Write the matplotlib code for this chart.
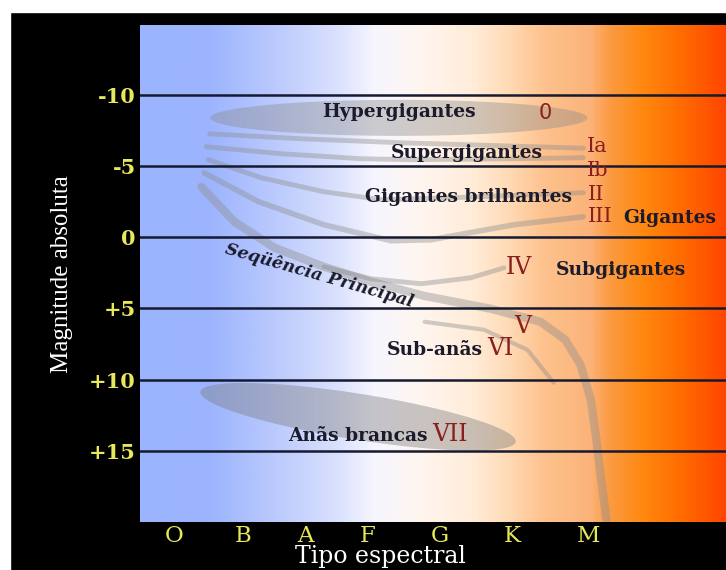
import numpy as np
import matplotlib
matplotlib.use("Agg")
import matplotlib.pyplot as plt
from matplotlib.colors import LinearSegmentedColormap
from matplotlib.patches import Rectangle, Polygon

# ---------------- data ----------------
spectral_types = ["O", "B", "A", "F", "G", "K", "M"]
spectral_pos = [0.0, 1.0, 1.9, 2.8, 3.85, 4.9, 6.0]
mag_ticks = [-10, -5, 0, 5, 10, 15]
mag_labels = ["-10", "-5", "0", "+5", "+10", "+15"]

# luminosity-class tracks: (spectral position, absolute magnitude)
ia_x = [0.51, 1.84, 3.29, 4.73, 5.93]
ia_m = [-7.26, -6.91, -6.63, -6.42, -6.25]
ib_x = [0.46, 1.55, 2.71, 3.43, 4.73, 5.93]
ib_m = [-6.35, -5.86, -5.51, -5.44, -5.50, -5.58]
ii_x = [0.49, 1.26, 2.17, 3.00, 4.01, 5.93]
ii_m = [-5.44, -4.17, -3.19, -2.63, -2.77, -3.12]
iii_x = [0.43, 1.22, 2.17, 3.14, 3.72, 4.92, 5.93]
iii_m = [-4.52, -2.49, -0.87, 0.25, 0.18, -0.87, -1.43]
ms_x = [0.39, 0.87, 1.45, 2.17, 2.85, 3.62, 4.59, 5.31, 5.67, 5.89, 6.04, 6.12, 6.19, 6.27]
ms_m = [-3.54, -1.08, 0.74, 2.08, 3.13, 4.12, 5.03, 5.94, 7.21, 8.96, 11.42, 14.23, 17.04, 20.0]
iv_x = [2.17, 2.85, 3.58, 4.30, 4.78]
iv_m = [2.08, 2.92, 3.27, 2.85, 2.15]
vi_x = [3.63, 4.49, 5.12, 5.50]
vi_m = [5.94, 6.50, 7.91, 10.22]

# ---------------- figure ----------------
W, H = 726, 570
fig = plt.figure(figsize=(W / 100, H / 100), dpi=100, facecolor="black")
fig.patches.append(Rectangle((0, 1 - 12 / H), 1, 12 / H, transform=fig.transFigure,
                             color="white", zorder=0))
fig.patches.append(Rectangle((0, 0), 10 / W, 1, transform=fig.transFigure,
                             color="white", zorder=0))

ax = fig.add_axes([140 / W, 48 / H, 586 / W, 497 / H])
XMIN, XMAX, YBOT, YTOP = -0.5, 8.0, 20.0, -14.9

# px -> data helpers (for annotation placement)
def dx(px):
    return (px - 173) / 69.1

def dy(py):
    return -10 + (py - 95) / 14.24

stops = [(0.0, "#9bb4fe"), (0.12, "#9db5fe"), (0.20, "#b3c4fe"), (0.34, "#dbe2fd"),
         (0.40, "#f6f6ff"), (0.48, "#fff5ef"), (0.57, "#ffecd8"), (0.63, "#ffdab5"),
         (0.69, "#fec28e"), (0.77, "#fbb379"), (0.805, "#fb9a40"), (0.86, "#ff8810"),
         (0.93, "#ff6a00"), (1.0, "#ff4600")]
cmap = LinearSegmentedColormap.from_list("hr", stops)
ax.imshow(np.linspace(0, 1, 600)[None, :], cmap=cmap, aspect="auto",
          extent=[XMIN, XMAX, YBOT, YTOP], zorder=0, interpolation="bilinear")
ax.set_xlim(XMIN, XMAX)
ax.set_ylim(YBOT, YTOP)

for m in mag_ticks:
    ax.axhline(m, color="#151a30", lw=1.8, zorder=3)

# hypergiant ellipse
t = np.linspace(0, 2 * np.pi, 200)
hx = 3.256 + (189 / 69.1) * np.cos(t)
hm = -8.38 + (18 / 14.24) * np.sin(t)
ax.add_patch(Polygon(np.c_[hx, hm], closed=True, facecolor="#8a8a8a", alpha=0.40,
                     edgecolor="none", zorder=1))
# white dwarf ellipse (tilted)
th = np.deg2rad(9)
a, b = 160, 23
ox = a * np.cos(t) * np.cos(th) - b * np.sin(t) * np.sin(th)
oy = a * np.cos(t) * np.sin(th) + b * np.sin(t) * np.cos(th)
ax.add_patch(Polygon(np.c_[2.663 + ox / 69.1, 12.61 + oy / 14.24], closed=True,
                     facecolor="#7a7a7a", alpha=0.40, edgecolor="none", zorder=1))

kw = dict(color="#8e8e8e", alpha=0.42, solid_capstyle="round", solid_joinstyle="round", zorder=2)
ax.plot(ia_x, ia_m, lw=3.5, **kw)
ax.plot(ib_x, ib_m, lw=3.5, **kw)
ax.plot(ii_x, ii_m, lw=3.5, **kw)
ax.plot(iii_x, iii_m, lw=4, **kw)
ax.plot(ms_x, ms_m, lw=6, **kw)
ax.plot(iv_x, iv_m, lw=3.5, **kw)
ax.plot(vi_x, vi_m, lw=3, **kw)

# axes styling
for s in ax.spines.values():
    s.set_visible(False)
ax.set_yticks(mag_ticks)
ax.set_yticklabels(mag_labels, color="#e8e85c", fontsize=15, fontweight="bold",
                   family="DejaVu Serif")
ax.set_xticks(spectral_pos)
ax.set_xticklabels(spectral_types, color="#e8e85c", fontsize=16.5, family="DejaVu Serif")
ax.tick_params(axis="y", length=0, pad=3)
ax.tick_params(axis="x", length=0, pad=2)

fig.text(380 / W, 1 - 557 / H, "Tipo espectral", color="white", fontsize=17,
         family="DejaVu Serif", ha="center", va="center")
fig.text(62 / W, 1 - 274 / H, "Magnitude absoluta", color="white", fontsize=18,
         family="Liberation Serif", rotation=90, ha="center", va="center")

# labels
lab = dict(color="#1b1b2b", fontsize=13.5, fontweight="bold", family="DejaVu Serif",
           va="center", zorder=5)
rom = dict(color="#8a1e1e", fontsize=15, family="DejaVu Serif", va="center", zorder=5)

ax.text(dx(398), dy(112), "Hypergigantes", ha="center", **lab)
ax.text(dx(545), dy(113), "0", ha="center", **{**rom, "family": "DejaVu Sans", "fontsize": 15})
ax.text(dx(466), dy(153), "Supergigantes", ha="center", **lab)
ax.text(dx(586), dy(147), "Ia", ha="left", **rom)
ax.text(dx(586), dy(171), "Ib", ha="left", **rom)
ax.text(dx(468), dy(197), "Gigantes brilhantes", ha="center", **lab)
ax.text(dx(587), dy(195), "II", ha="left", **rom)
ax.text(dx(587), dy(217), "III", ha="left", **rom)
ax.text(dx(623), dy(218), "Gigantes", ha="left", **lab)
ax.text(dx(505), dy(268), "IV", ha="left", **{**rom, "fontsize": 17})
ax.text(dx(555), dy(270), "Subgigantes", ha="left", **lab)
ax.text(dx(514), dy(327), "V", ha="left", **{**rom, "fontsize": 17})
ax.text(dx(482), dy(350), "Sub-anãs", ha="right", **lab)
ax.text(dx(486), dy(349), "VI", ha="left", **{**rom, "fontsize": 17})
ax.text(dx(427), dy(436), "Anãs brancas", ha="right", **lab)
ax.text(dx(431), dy(435), "VII", ha="left", **{**rom, "fontsize": 17})
ax.text(dx(224), dy(249), "Seqüência Principal", ha="left", rotation=-16,
        rotation_mode="anchor", style="italic", **{**lab, "fontsize": 12.5})

fig.savefig("out.png", dpi=100, facecolor="black")
